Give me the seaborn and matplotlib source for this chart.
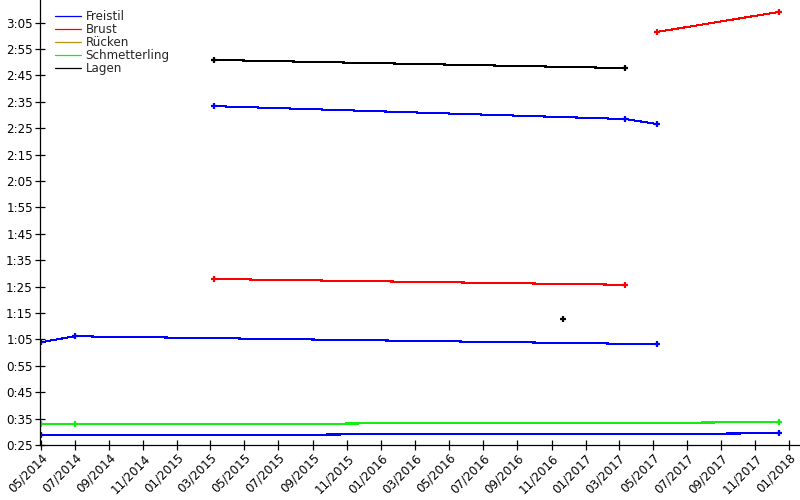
import matplotlib
matplotlib.use("Agg")
import matplotlib.pyplot as plt
import matplotlib.dates as mdates
from matplotlib.ticker import FixedLocator, FuncFormatter
from matplotlib.lines import Line2D
import numpy as np
import pandas as pd
import seaborn as sns

# ---- data (times in seconds) ----
strokes = ["Freistil", "Brust", "Rücken", "Schmetterling", "Lagen"]
stroke_colors = ["#0000ff", "#ff0000", "#b8960b", "#11ee11", "#000000"]

freistil_50_dates = ["2014-05-01", "2017-12-14"]
freistil_50_times = [28.7, 29.4]

freistil_100_dates = ["2014-05-01", "2014-07-01", "2017-05-09"]
freistil_100_times = [63.9, 66.2, 63.2]

freistil_200_dates = ["2015-03-07", "2017-03-13", "2017-05-09"]
freistil_200_times = [153.4, 148.5, 146.6]

brust_100_dates = ["2015-03-07", "2017-03-13"]
brust_100_times = [87.9, 85.7]

brust_200_dates = ["2017-05-09", "2017-12-14"]
brust_200_times = [181.5, 189.1]

schmetterling_50_dates = ["2014-05-01", "2014-07-01", "2017-12-14"]
schmetterling_50_times = [32.85, 32.85, 33.6]

lagen_100_dates = ["2016-11-22"]
lagen_100_times = [72.7]

lagen_200_dates = ["2015-03-07", "2017-03-13"]
lagen_200_times = [170.9, 167.8]

series = [
    ("Freistil", "F50", freistil_50_dates, freistil_50_times),
    ("Freistil", "F100", freistil_100_dates, freistil_100_times),
    ("Freistil", "F200", freistil_200_dates, freistil_200_times),
    ("Brust", "B100", brust_100_dates, brust_100_times),
    ("Brust", "B200", brust_200_dates, brust_200_times),
    ("Schmetterling", "S50", schmetterling_50_dates, schmetterling_50_times),
    ("Lagen", "L100", lagen_100_dates, lagen_100_times),
    ("Lagen", "L200", lagen_200_dates, lagen_200_times),
]

rows = []
for stroke, sid, ds, ts in series:
    for d, t in zip(ds, ts):
        rows.append({"stroke": stroke, "series": sid, "date": pd.Timestamp(d), "seconds": t})
df = pd.DataFrame(rows)

y_ticks = np.arange(25, 190, 10)

# ---- plot ----
sns.set_style("ticks")
plt.rcParams["font.family"] = ["DejaVu Sans"]

fig = plt.figure(figsize=(8, 5), dpi=100)
ax = fig.add_axes([40 / 800, 55 / 500, 760 / 800, 445 / 500])

palette = dict(zip(strokes, stroke_colors))
sns.lineplot(data=df, x="date", y="seconds", hue="stroke", units="series",
             estimator=None, palette=palette, hue_order=strokes,
             marker="+", markersize=4.5, legend=False, ax=ax)
for ln in ax.lines:
    ln.set_markeredgecolor(ln.get_color())
    ln.set_markeredgewidth(1.6)
    ln.set_linewidth(0.75)
    ln.set_antialiased(False)

ax.set_xlim(pd.Timestamp("2014-04-30"), pd.Timestamp("2018-01-20"))
ax.set_ylim(25, 193.6)

ax.xaxis.set_major_locator(mdates.MonthLocator(bymonth=[1, 3, 5, 7, 9, 11]))
ax.xaxis.set_major_formatter(mdates.DateFormatter("%m/%Y"))
ax.yaxis.set_major_locator(FixedLocator(y_ticks))
ax.yaxis.set_major_formatter(FuncFormatter(lambda v, p: f"{int(v // 60)}:{int(round(v % 60)):02d}"))

ax.tick_params(direction="inout", length=7.2, width=0.9, colors="black", labelsize=8.6)
ax.tick_params(axis="y", pad=1.5)
ax.tick_params(axis="x", pad=1)
for lab in ax.get_xticklabels():
    lab.set_rotation(45)
    lab.set_ha("right")
    lab.set_rotation_mode("anchor")

ax.set_xlabel("")
ax.set_ylabel("")
sns.despine(ax=ax)
for s in ["left", "bottom"]:
    ax.spines[s].set_linewidth(0.9)
    ax.spines[s].set_color("black")

handles = [Line2D([0], [0], color=c, lw=0.9) for c in stroke_colors]
ax.legend(handles, strokes, loc="upper left", bbox_to_anchor=(55 / 800, 1 - 10 / 500),
          bbox_transform=fig.transFigure, frameon=False, fontsize=8.6,
          handlelength=2.2, handletextpad=0.35, labelspacing=0.0,
          borderpad=0, borderaxespad=0)

fig.savefig("out.png", dpi=100)
